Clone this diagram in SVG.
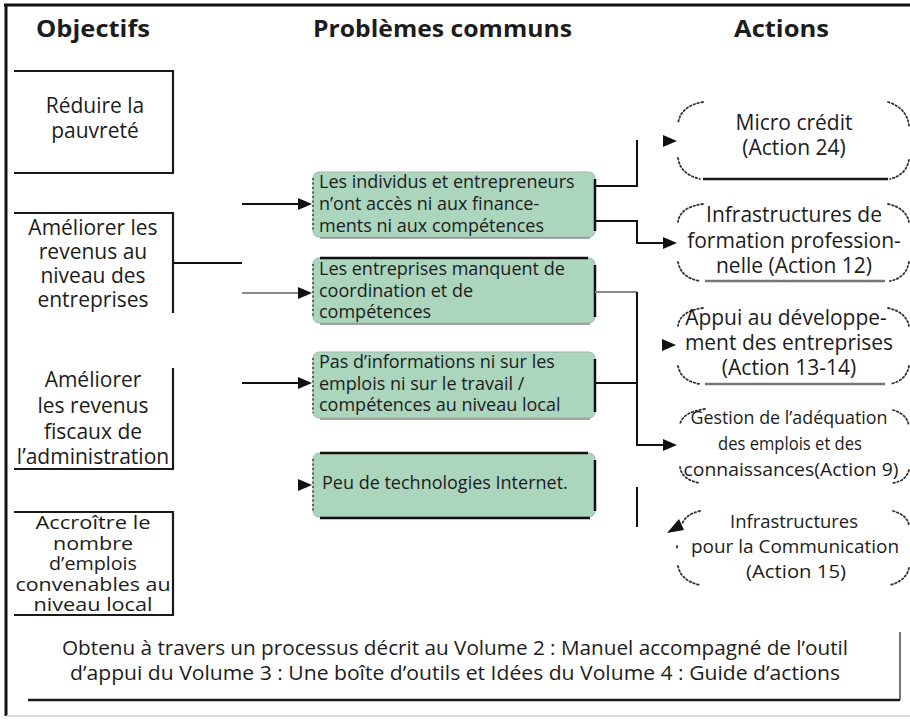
<svg xmlns="http://www.w3.org/2000/svg" width="910" height="720" viewBox="0 0 910 720">
<defs>
<style>
.t{font-family:"Open Sans","Noto Sans","DejaVu Sans",sans-serif;fill:#1c1c1c}
.h{font-weight:700;font-size:23px}
.r{font-size:21px}
.n{font-size:19px}
.k{font-size:18px}
.g{font-size:18px}
.edge{stroke:#1a1a1a;stroke-width:2.2;fill:none}
.box{fill:#abd5bd;stroke:#9db8a7;stroke-width:1}
.bedge{stroke:#111;stroke-width:2.5;fill:none}
.bdot{stroke:#333;stroke-width:1.4;fill:none;stroke-dasharray:2 2.5}
.bshade{stroke:#8a8a8a;stroke-width:1.5;fill:none}
.dot{fill:none;stroke:#333;stroke-width:1.8;stroke-dasharray:1.6 2.4;stroke-linecap:round}
.base{stroke:#1a1a1a;stroke-width:2.4;fill:none}
.base.grey{stroke:#777}
.wire{fill:none;stroke:#111;stroke-width:2}
.wire.grey{stroke:#8a8a8a}
.ah{fill:#111}
</style>
<path id="ah" d="M0,-6 L14,0 L0,6 Z"/>
</defs>

<!-- frame -->
<g id="frame">
<line x1="4" y1="5" x2="910" y2="5" stroke="#111" stroke-width="3"/>
<line x1="6" y1="4" x2="6" y2="716" stroke="#111" stroke-width="3"/>
<line x1="6" y1="716" x2="910" y2="716" stroke="#cfcfcf" stroke-width="1.5"/>
</g>

<!-- column titles -->
<g id="titles" class="t h">
<text x="36" y="37" textLength="114" lengthAdjust="spacingAndGlyphs">Objectifs</text>
<text x="313" y="37" textLength="259" lengthAdjust="spacingAndGlyphs">Problèmes communs</text>
<text x="734" y="37" textLength="95" lengthAdjust="spacingAndGlyphs">Actions</text>
</g>

<!-- objectives -->
<g id="obj1">
<path class="edge" d="M14,71 H173 V173 H14"/>
<text class="t r" text-anchor="middle"><tspan x="95" y="113">Réduire la</tspan><tspan x="95" y="138">pauvreté</tspan></text>
</g>
<g id="obj2">
<path class="edge" d="M14,213 H173 V313"/>
<text class="t r" text-anchor="middle"><tspan x="93" y="235">Améliorer les</tspan><tspan x="93" y="259">revenus au</tspan><tspan x="93" y="283">niveau des</tspan><tspan x="93" y="307">entreprises</tspan></text>
</g>
<g id="obj3">
<path class="edge" d="M173,368 V469 H14"/>
<text class="t r" text-anchor="middle"><tspan x="93" y="387">Améliorer</tspan><tspan x="93" y="413">les revenus</tspan><tspan x="93" y="439">fiscaux de</tspan><tspan x="93" y="464">l’administration</tspan></text>
</g>
<g id="obj4">
<path class="edge" d="M14,512 H173 V615 H14"/>
<g class="t k" text-anchor="middle">
<text x="93" y="529" textLength="115" lengthAdjust="spacingAndGlyphs">Accroître le</text>
<text x="93" y="550" textLength="80" lengthAdjust="spacingAndGlyphs">nombre</text>
<text x="93" y="570" textLength="88" lengthAdjust="spacingAndGlyphs">d’emplois</text>
<text x="93" y="591" textLength="155" lengthAdjust="spacingAndGlyphs">convenables au</text>
<text x="93" y="611" textLength="119" lengthAdjust="spacingAndGlyphs">niveau local</text>
</g>
</g>

<!-- common problems -->
<g id="prob1">
<rect class="box" x="313" y="172" width="282" height="65" rx="6"/>
<line class="bedge" x1="595" y1="179" x2="595" y2="231"/>
<line class="bdot" x1="313" y1="178" x2="313" y2="232"/>
<line class="bshade" x1="320" y1="238" x2="590" y2="238"/>
<text class="t g"><tspan x="319" y="188">Les individus et entrepreneurs</tspan><tspan x="319" y="210">n’ont  accès ni aux finance-</tspan><tspan x="319" y="232">ments  ni aux compétences</tspan></text>
</g>
<g id="prob2">
<rect class="box" x="313" y="258" width="282" height="65" rx="6"/>
<line class="bedge" x1="320" y1="258" x2="588" y2="258"/>
<line class="bedge" x1="595" y1="265" x2="595" y2="317"/>
<line class="bdot" x1="313" y1="264" x2="313" y2="318"/>
<line class="bshade" x1="320" y1="324" x2="590" y2="324"/>
<text class="t g"><tspan x="319" y="275">Les entreprises manquent de</tspan><tspan x="319" y="297">coordination et de</tspan><tspan x="319" y="318">compétences</tspan></text>
</g>
<g id="prob3">
<rect class="box" x="313" y="352" width="282" height="66" rx="6"/>
<line class="bedge" x1="595" y1="359" x2="595" y2="412"/>
<line class="bdot" x1="313" y1="358" x2="313" y2="413"/>
<line class="bshade" x1="320" y1="419" x2="590" y2="419"/>
<text class="t g"><tspan x="319" y="368">Pas d’informations ni sur les</tspan><tspan x="319" y="390">emplois ni sur le travail /</tspan><tspan x="319" y="411">compétences au niveau local</tspan></text>
</g>
<g id="prob4">
<rect class="box" x="313" y="453" width="282" height="64" rx="6"/>
<line class="bedge" x1="320" y1="453" x2="588" y2="453"/>
<line class="bedge" x1="595" y1="460" x2="595" y2="511"/>
<line class="bdot" x1="313" y1="459" x2="313" y2="512"/>
<line class="bedge" x1="320" y1="518" x2="590" y2="518"/>
<text class="t g" x="322" y="489">Peu de technologies Internet.</text>
</g>

<!-- actions -->
<g id="act1">
<path class="dot" d="M703,102 Q680,106 678,124 M678,158 Q680,174 700,179 M888,102 Q907,108 909,126 M909,160 Q906,175 890,179"/>
<line class="base" x1="703" y1="179" x2="888" y2="179"/>
<text class="t r" text-anchor="middle"><tspan x="794" y="130">Micro crédit</tspan><tspan x="794" y="155">(Action 24)</tspan></text>
</g>
<g id="act2">
<path class="dot" d="M703,204 Q680,207 678,222 M678,262 Q681,278 700,281 M888,204 Q906,208 909,222 M909,262 Q906,278 890,281"/>
<line class="base grey" x1="705" y1="281" x2="885" y2="281"/>
<text class="t r" text-anchor="middle"><tspan x="794" y="222">Infrastructures de</tspan><tspan x="794" y="248">formation profession-</tspan><tspan x="794" y="273">nelle (Action 12)</tspan></text>
</g>
<g id="act3">
<path class="dot" d="M703,308 Q680,311 678,326 M678,366 Q681,381 700,384 M888,308 Q906,312 909,326 M909,366 Q906,381 890,384"/>
<line class="base grey" x1="705" y1="384" x2="885" y2="384"/>
<text class="t r" text-anchor="middle"><tspan x="786" y="325">Appui au développe-</tspan><tspan x="789" y="350">ment des entreprises</tspan><tspan x="789" y="375">(Action 13-14)</tspan></text>
</g>
<g id="act4">
<path class="dot" d="M705,409 Q683,412 680,424 M680,467 Q682,480 700,483 M893,410 Q907,414 909,426 M909,470 Q906,481 893,483"/>
<g class="t n" text-anchor="middle">
<text x="789" y="424" textLength="197" lengthAdjust="spacingAndGlyphs">Gestion de l’adéquation</text>
<text x="790" y="450" textLength="144" lengthAdjust="spacingAndGlyphs">des emplois et des</text>
<text x="791" y="476" textLength="215" lengthAdjust="spacingAndGlyphs">connaissances(Action 9)</text>
</g>
</g>
<g id="act5">
<path class="dot" d="M700,511 Q686,514 682,524 M677,546 V550 M678,566 Q681,581 700,585 M893,511 Q907,515 909,525 M909,568 Q906,581 890,585"/>
<g class="t n" text-anchor="middle">
<text x="794" y="528" textLength="128" lengthAdjust="spacingAndGlyphs">Infrastructures</text>
<text x="795" y="553" textLength="208" lengthAdjust="spacingAndGlyphs">pour la Communication</text>
<text x="796" y="578" textLength="100" lengthAdjust="spacingAndGlyphs">(Action 15)</text>
</g>
</g>

<!-- source note -->
<g id="note">
<line x1="900" y1="632" x2="900" y2="700" stroke="#555" stroke-width="1.6"/>
<line x1="28" y1="700" x2="900" y2="700" stroke="#1a1a1a" stroke-width="2.4"/>
<g class="t" text-anchor="middle" style="font-size:19.5px">
<text x="455" y="655" textLength="786" lengthAdjust="spacingAndGlyphs">Obtenu à travers un processus décrit au Volume 2 : Manuel accompagné de l’outil</text>
<text x="455" y="680" textLength="770" lengthAdjust="spacingAndGlyphs">d’appui du Volume 3 : Une boîte d’outils et Idées du Volume 4 : Guide d’actions</text>
</g>
</g>

<!-- connectors -->
<g id="connectors">
<path class="wire" d="M173,263 H242"/>
<path class="wire" d="M242,204 H300"/>
<use href="#ah" class="ah" x="298" y="204"/>
<path class="wire grey" d="M242,293 H300"/>
<use href="#ah" class="ah" x="298" y="293"/>
<path class="wire" d="M242,383 H300"/>
<use href="#ah" class="ah" x="298" y="383"/>
<use href="#ah" class="ah" x="298" y="485"/>
<path class="wire" d="M595,186 H637 V140"/>
<use href="#ah" class="ah" x="663" y="141"/>
<path class="wire" d="M595,221 H637 V243 H665"/>
<use href="#ah" class="ah" x="663" y="243"/>
<use href="#ah" class="ah" x="662" y="345"/>
<path class="wire grey" d="M595,292 H637"/>
<path class="wire" d="M637,292 V445 H665"/>
<path class="wire" d="M595,383 H637"/>
<use href="#ah" class="ah" x="663" y="445"/>
<path class="wire" d="M637,487 V527"/>
<path class="ah" d="M667,533 L679,519 L684,530 Z"/>
</g>
</svg>
